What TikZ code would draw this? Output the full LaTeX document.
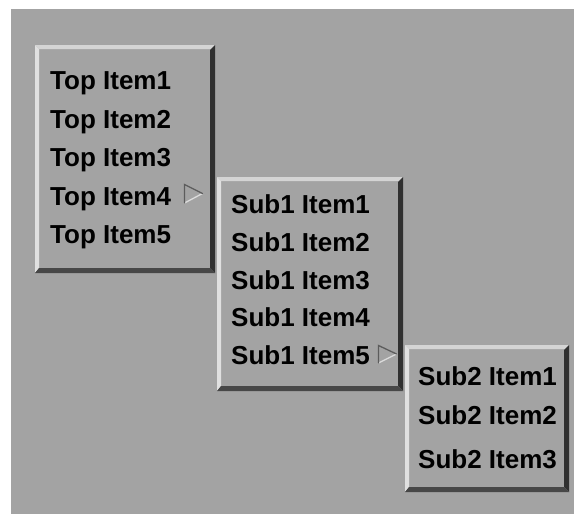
\documentclass[tikz,border=0pt]{standalone}
\usepackage{fontspec}
\setmainfont{Liberation Sans}
\definecolor{panel}{HTML}{A3A3A3}
\definecolor{bevtop}{HTML}{D4D4D4}
\definecolor{bevleft}{HTML}{E0E0E0}
\definecolor{bevright}{HTML}{303030}
\definecolor{bevbottom}{HTML}{474747}
\definecolor{arrdark}{HTML}{5C5C5C}
\definecolor{arrlight}{HTML}{DCDCDC}
\tikzset{
  item/.style={anchor=base west,inner sep=0pt,font=\fontsize{26}{30}\selectfont\bfseries},
  arrline/.style={line width=1.3pt,line cap=round}
}
\begin{document}
\begin{tikzpicture}[x=1pt,y=-1pt]
  \useasboundingbox (0,0) rectangle (574,514);
  \fill[panel] (11,9) rectangle (574,514);

  % top menu
  \fill[bevtop] (35,45) -- (215,45) -- (211,49) -- (39,49) -- cycle;
  \fill[bevleft] (35,45) -- (39,49) -- (39,269) -- (35,273) -- cycle;
  \fill[bevright] (215,45) -- (215,273) -- (210,268) -- (210,50) -- cycle;
  \fill[bevbottom] (35,273) -- (215,273) -- (210,268) -- (39,268) -- cycle;
  \node[item] (top1) at (50,89) {Top Item1};
  \node[item] (top2) at (50,128) {Top Item2};
  \node[item] (top3) at (50,166) {Top Item3};
  \node[item] (top4) at (50,205) {Top Item4};
  \node[item] (top5) at (50,243) {Top Item5};
  \draw[arrline,arrlight] (184.5,203) -- (202.5,193.5);
  \draw[arrline,arrdark] (184.5,203) -- (184.5,184.5) -- (202.5,193.5);

  % first sub menu
  \fill[bevtop] (217,177) -- (403,177) -- (399,181) -- (221,181) -- cycle;
  \fill[bevleft] (217,177) -- (221,181) -- (221,387) -- (217,391) -- cycle;
  \fill[bevright] (403,177) -- (403,391) -- (398,386) -- (398,182) -- cycle;
  \fill[bevbottom] (217,391) -- (403,391) -- (398,386) -- (221,386) -- cycle;
  \node[item] (sub1a) at (231,213) {Sub1 Item1};
  \node[item] (sub1b) at (231,251) {Sub1 Item2};
  \node[item] (sub1c) at (231,289) {Sub1 Item3};
  \node[item] (sub1d) at (231,326) {Sub1 Item4};
  \node[item] (sub1e) at (231,364) {Sub1 Item5};
  \draw[arrline,arrlight] (378.5,363) -- (396.5,354);
  \draw[arrline,arrdark] (378.5,363) -- (378.5,345.5) -- (396.5,354);

  % second sub menu
  \fill[bevtop] (405,345) -- (569,345) -- (565,349) -- (409,349) -- cycle;
  \fill[bevleft] (405,345) -- (409,349) -- (409,488) -- (405,492) -- cycle;
  \fill[bevright] (569,345) -- (569,492) -- (564,487) -- (564,350) -- cycle;
  \fill[bevbottom] (405,492) -- (569,492) -- (564,487) -- (409,487) -- cycle;
  \node[item] (sub2a) at (418,385) {Sub2 Item1};
  \node[item] (sub2b) at (418,424) {Sub2 Item2};
  \node[item] (sub2c) at (418,468) {Sub2 Item3};
\end{tikzpicture}
\end{document}
